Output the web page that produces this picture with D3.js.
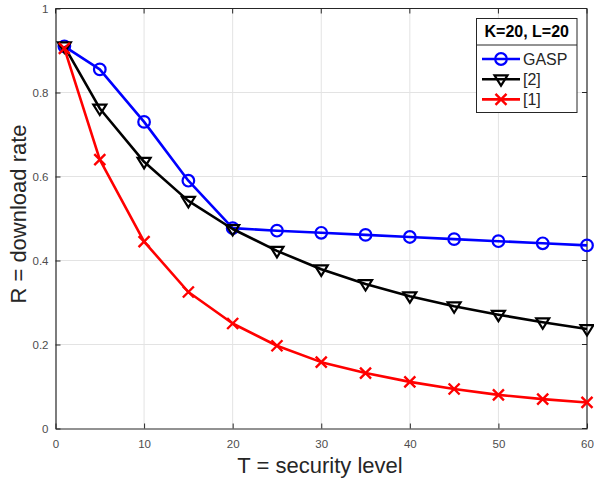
<!DOCTYPE html>
<html>
<head>
<meta charset="utf-8">
<script src="https://cdn.jsdelivr.net/npm/d3@7"></script>
<style>
  body { margin: 0; background: #fff; }
  svg { display: block; font-family: "Liberation Sans", Arial, sans-serif; }
</style>
</head>
<body>
<svg id="chart" width="594" height="481"></svg>
<script>
// Security level T
const securityLevels = [1, 5, 10, 15, 20, 25, 30, 35, 40, 45, 50, 55, 60];
// Download rate for each scheme
const gaspRate = [0.91, 0.855, 0.73, 0.59, 0.477, 0.471, 0.466, 0.461, 0.456, 0.451, 0.446, 0.441, 0.436];
const ref2Rate = [0.91, 0.762, 0.635, 0.542, 0.475, 0.423, 0.379, 0.344, 0.315, 0.291, 0.271, 0.253, 0.237];
const ref1Rate = [0.905, 0.64, 0.445, 0.325, 0.25, 0.197, 0.158, 0.132, 0.111, 0.094, 0.08, 0.07, 0.062];
const seriesNames = ["GASP", "[2]", "[1]"];
const xTicks = [0, 10, 20, 30, 40, 50, 60];
const yTicks = [0, 0.2, 0.4, 0.6, 0.8, 1];
const legendTitle = "K=20, L=20";

const series = [
  { name: seriesNames[0], values: gaspRate, color: "#0000ff", marker: "circle" },
  { name: seriesNames[1], values: ref2Rate, color: "#000000", marker: "triangle" },
  { name: seriesNames[2], values: ref1Rate, color: "#ff0000", marker: "cross" }
];

const svg = d3.select("#chart");
const m = { left: 55.5, right: 587, top: 8.5, bottom: 428.5 };

const x = d3.scaleLinear().domain([0, 60]).range([m.left, m.right]);
const y = d3.scaleLinear().domain([0, 1]).range([m.bottom, m.top]);

// grid
const grid = svg.append("g").attr("stroke", "#e3e3e3").attr("stroke-width", 1);
xTicks.slice(1, -1).forEach(t => {
  grid.append("line").attr("x1", x(t)).attr("x2", x(t)).attr("y1", m.top).attr("y2", m.bottom);
});
yTicks.slice(1, -1).forEach(t => {
  grid.append("line").attr("y1", y(t)).attr("y2", y(t)).attr("x1", m.left).attr("x2", m.right);
});

// axes with inward ticks
const tickColor = "#262626";
const xAxis = d3.axisBottom(x).tickValues(xTicks).tickFormat(d3.format("d")).tickSizeInner(-5).tickSizeOuter(0).tickPadding(11);
const yAxis = d3.axisLeft(y).tickValues(yTicks).tickFormat(d => d === 0 || d === 1 ? String(d) : d3.format(".1f")(d)).tickSizeInner(-5).tickSizeOuter(0).tickPadding(7);

const gx = svg.append("g").attr("transform", `translate(0,${m.bottom})`).call(xAxis);
const gy = svg.append("g").attr("transform", `translate(${m.left},0)`).call(yAxis);
[gx, gy].forEach(g => {
  g.select(".domain").attr("stroke", tickColor).attr("stroke-width", 1.2);
  g.selectAll(".tick line").attr("stroke", tickColor);
  g.selectAll(".tick text").attr("fill", "#4d4d4d").attr("font-size", 11.5).attr("font-family", "Liberation Sans, Arial, sans-serif");
});

// top and right box edges with ticks
const box = svg.append("g").attr("stroke", tickColor).attr("stroke-width", 1.2).attr("fill", "none");
box.append("line").attr("x1", m.left).attr("x2", m.right).attr("y1", m.top).attr("y2", m.top);
box.append("line").attr("x1", m.right).attr("x2", m.right).attr("y1", m.top).attr("y2", m.bottom);
xTicks.forEach(t => box.append("line").attr("x1", x(t)).attr("x2", x(t)).attr("y1", m.top).attr("y2", m.top + 5).attr("stroke-width", 1));
yTicks.forEach(t => box.append("line").attr("y1", y(t)).attr("y2", y(t)).attr("x1", m.right).attr("x2", m.right - 5).attr("stroke-width", 1));

// axis titles
svg.append("text").attr("x", 320).attr("y", 473).attr("text-anchor", "middle")
  .attr("font-size", 22).attr("fill", "#262626").text("T = security level");
svg.append("text").attr("transform", `translate(26,214) rotate(-90)`).attr("text-anchor", "middle")
  .attr("font-size", 22).attr("fill", "#262626").text("R = download rate");

// markers
function drawMarker(g, type, cx, cy, color) {
  if (type === "circle") {
    g.append("circle").attr("cx", cx).attr("cy", cy).attr("r", 5.8)
      .attr("fill", "none").attr("stroke", color).attr("stroke-width", 2.2);
  } else if (type === "triangle") {
    const s = 6.5;
    g.append("path").attr("d", `M${cx - s},${cy - s * 0.6} L${cx + s},${cy - s * 0.6} L${cx},${cy + s * 1.0} Z`)
      .attr("fill", "none").attr("stroke", color).attr("stroke-width", 2.2).attr("stroke-linejoin", "miter");
  } else {
    const s = 5.5;
    g.append("path").attr("d", `M${cx - s},${cy - s} L${cx + s},${cy + s} M${cx - s},${cy + s} L${cx + s},${cy - s}`)
      .attr("stroke", color).attr("stroke-width", 2.4).attr("fill", "none");
  }
}

const line = d3.line().x(d => x(d[0])).y(d => y(d[1]));
series.forEach(s => {
  const pts = securityLevels.map((t, i) => [t, s.values[i]]);
  const g = svg.append("g");
  g.append("path").datum(pts).attr("d", line).attr("fill", "none")
    .attr("stroke", s.color).attr("stroke-width", 2.6).attr("stroke-linejoin", "round");
  pts.forEach(p => drawMarker(g, s.marker, x(p[0]), y(p[1]), s.color));
});

// legend
const lg = svg.append("g");
const lx = 476.5, lw = 100.5, ly = 18.5;
lg.append("rect").attr("x", lx).attr("y", ly).attr("width", lw).attr("height", 94)
  .attr("fill", "#fff").attr("stroke", "#262626").attr("stroke-width", 1);
lg.append("line").attr("x1", lx).attr("x2", lx + lw).attr("y1", 45).attr("y2", 45).attr("stroke", "#262626");
lg.append("text").attr("x", lx + lw / 2).attr("y", 37).attr("text-anchor", "middle")
  .attr("font-size", 16).attr("font-weight", "bold").attr("fill", "#000").text(legendTitle);
series.forEach((s, i) => {
  const yy = 59 + i * 20.2;
  lg.append("line").attr("x1", 482).attr("x2", 520).attr("y1", yy).attr("y2", yy)
    .attr("stroke", s.color).attr("stroke-width", 2.6);
  drawMarker(lg, s.marker, 501, yy, s.color);
  lg.append("text").attr("x", 523).attr("y", yy + 5.6).attr("font-size", 16).attr("fill", "#262626").text(s.name);
});
</script>
</body>
</html>
